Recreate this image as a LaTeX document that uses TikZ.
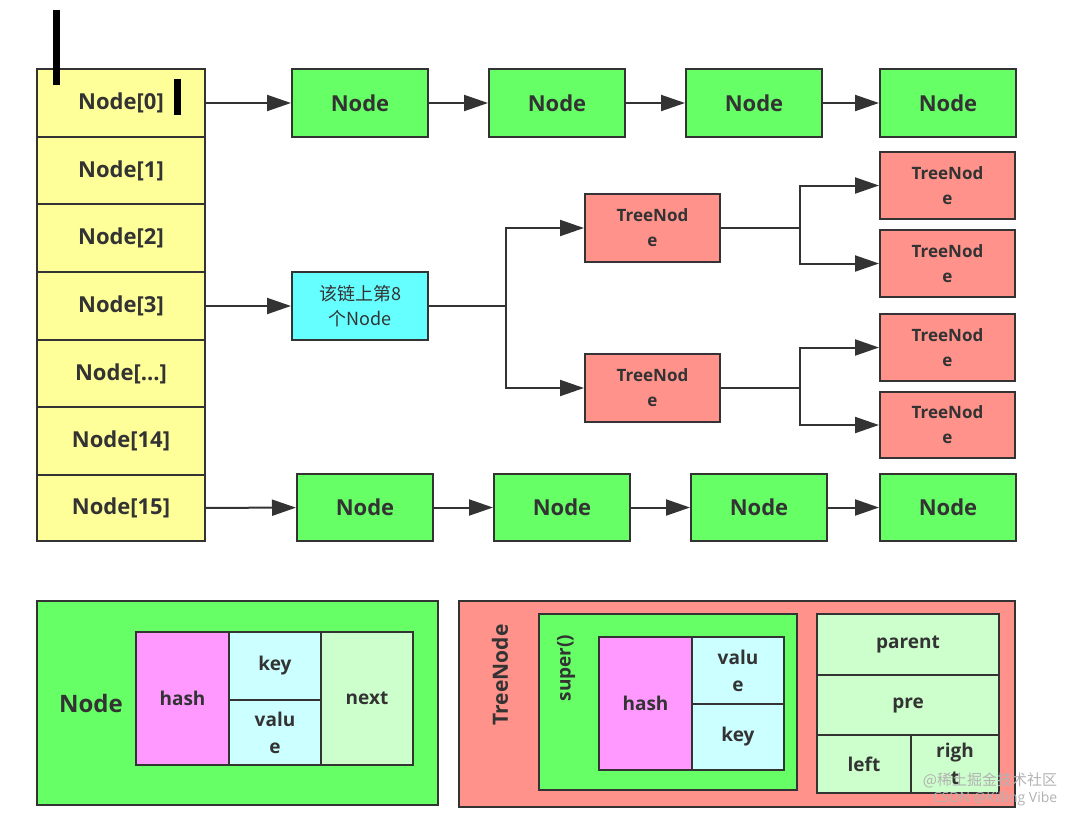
\documentclass[tikz,border=0pt]{standalone}
\usepackage{fontspec}
\setmainfont{Open Sans}
\newfontfamily\cjk{Noto Sans CJK SC}
\usetikzlibrary{arrows.meta}
\definecolor{yel}{HTML}{FFFF99}
\definecolor{grn}{HTML}{66FF66}
\definecolor{red}{HTML}{FF928B}
\definecolor{cya}{HTML}{66FFFF}
\definecolor{pnk}{HTML}{FF99FF}
\definecolor{lcy}{HTML}{CCFFFF}
\definecolor{lgr}{HTML}{CCFFCC}
\definecolor{ink}{HTML}{333333}
\newcommand\dotsx{.{}.{}.}
\begin{document}
\begin{tikzpicture}[x=1pt,y=-1pt,
  bx/.style={draw=ink,line width=2pt,inner sep=0pt,font=\bfseries\fontsize{22}{24}\selectfont,text=ink,align=center},
  tn/.style={font=\bfseries\fontsize{17}{25}\selectfont},
  lg/.style={font=\bfseries\fontsize{19}{22}\selectfont},
  lg2/.style={font=\bfseries\fontsize{19}{27}\selectfont},
  ar/.style={draw=ink,line width=2pt,-{Triangle[length=24pt,width=16pt]}}]
\useasboundingbox (0,0) rectangle (1084,815);
\newcommand\bb[5]{\node[bx,fill=#5,minimum width=#3-#1,minimum height=#4-#2] at ({(#1+#3)/2},{(#2+#4)/2})}
% array
\foreach \t/\a/\b [count=\i] in {Node[0]/69/137,Node[1]/137/204,Node[2]/204/272,Node[3]/272/340,Node[\dotsx]/340/407,Node[14]/407/475,Node[15]/475/541}
  {\bb{37}{\a}{205}{\b}{yel} (a\i) {\t};}
\fill (53,10) rectangle (60,85);
\fill (174,79) rectangle (181,115);
% row 0
\foreach \x [count=\i] in {292,489,686,880} {\bb{\x}{69}{\x+136}{137}{grn} (t\i) {Node};}
\draw[ar] (a1) -- (t1); \draw[ar] (t1) -- (t2); \draw[ar] (t2) -- (t3); \draw[ar] (t3) -- (t4);
% row 15
\foreach \x [count=\i] in {297,494,691,880} {\bb{\x}{474}{\x+136}{541}{grn} (b\i) {Node};}
\draw[ar] (a7) -- (b1); \draw[ar] (b1) -- (b2); \draw[ar] (b2) -- (b3); \draw[ar] (b3) -- (b4);
% tree
\bb{292}{272}{428}{340}{cya} [font=\cjk\fontsize{18}{25}\selectfont] (c) {该链上第8\\个Node};
\draw[ar] (a4) -- (c);
\bb{585}{194}{720}{262}{red} [tn] (m1) {TreeNod\\e};
\bb{585}{354}{720}{422}{red} [tn] (m2) {TreeNod\\e};
\foreach \a/\b [count=\i] in {152/219,230/297,314/381,392/458}
  {\bb{880}{\a}{1015}{\b}{red} [tn] (r\i) {TreeNod\\e};}
\coordinate (j0) at (506,306);
\draw[ink,line width=2pt] (c) -- (j0);
\draw[ar] (j0) |- (m1); \draw[ar] (j0) |- (m2);
\coordinate (j1) at (800,228); \coordinate (j2) at (800,388);
\draw[ink,line width=2pt] (m1) -- (j1); \draw[ink,line width=2pt] (m2) -- (j2);
\draw[ar] (j1) |- (r1); \draw[ar] (j1) |- (r2);
\draw[ar] (j2) |- (r3); \draw[ar] (j2) |- (r4);
% legend Node
\bb{37}{601}{438}{805}{grn} (L1) {};
\node[font=\bfseries\fontsize{24}{26}\selectfont,text=ink] (L1t) at (91,703) {Node};
\bb{136}{632}{229}{765}{pnk} [lg] (h1) {hash};
\bb{229}{632}{321}{700}{lcy} [lg] (k1) {key};
\bb{229}{700}{321}{765}{lcy} [lg2] (v1) {valu\\e};
\bb{321}{632}{413}{765}{lgr} [lg] (n1) {next};
% legend TreeNode
\bb{459}{601}{1015}{807}{red} (L2) {};
\node[rotate=90,font=\bfseries\fontsize{21}{22}\selectfont,text=ink] (L2t) at (500,675) {TreeNode};
\bb{539}{614}{797}{790}{grn} (S) {};
\node[rotate=90,font=\bfseries\fontsize{19}{22}\selectfont,text=ink] (St) at (566,668) {super()};
\bb{599}{637}{692}{770}{pnk} [lg] (h2) {hash};
\bb{692}{637}{784}{704}{lcy} [lg2] (v2) {valu\\e};
\bb{692}{704}{784}{770}{lcy} [lg] (k2) {key};
\bb{817}{614}{999}{675}{lgr} [lg] (p) {parent};
\bb{817}{675}{999}{735}{lgr} [lg] (pr) {pre};
\bb{817}{735}{911}{793}{lgr} [lg] (le) {left};
\bb{911}{735}{999}{793}{lgr} [lg2] (ri) {righ\\t};
\node[text=gray!60,font=\cjk\fontsize{15}{16}\selectfont] (w1) at (990,780) {@稀土掘金技术社区};
\node[text=gray!60,font=\fontsize{14}{16}\selectfont] (w2) at (995,799) {CSDN @Killing Vibe};
\end{tikzpicture}
\end{document}
